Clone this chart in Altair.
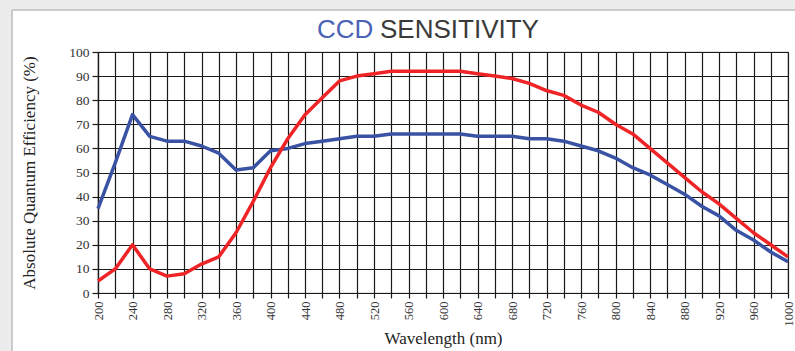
import altair as alt
import pandas as pd

wavelengths = list(range(200, 1001, 20))
blue_qe = [35, 54, 74, 65, 63, 63, 61, 58, 51, 52, 59, 60, 62, 63, 64, 65, 65, 66, 66, 66,
           66, 66, 65, 65, 65, 64, 64, 63, 61, 59, 56, 52, 49, 45, 41, 36, 32, 26, 22, 17, 13]
red_qe = [5, 10, 20, 10, 7, 8, 12, 15, 25, 38, 52, 64, 74, 81, 88, 90, 91, 92, 92, 92,
          92, 92, 91, 90, 89, 87, 84, 82, 78, 75, 70, 66, 60, 54, 48, 42, 37, 31, 25, 20, 15]
series_names = ["Blue", "Red"]
series_colors = ["#3a52a4", "#ee2426"]
x_ticks = list(range(200, 1001, 20))
y_ticks = list(range(0, 101, 10))

df = pd.DataFrame({
    "wavelength": wavelengths * 2,
    "qe": blue_qe + red_qe,
    "series": [series_names[0]] * len(wavelengths) + [series_names[1]] * len(wavelengths),
})

W, H = 690, 241
L, T = 98, 52

x = alt.X("wavelength:Q", scale=alt.Scale(domain=[200, 1000], nice=False),
          axis=alt.Axis(values=x_ticks, grid=True, gridColor="#1a1a1a", gridWidth=1.2,
                        gridOpacity=1,
                        labelExpr="datum.value % 40 == 0 ? datum.label : ''",
                        labelAngle=270, labelAlign="right", labelBaseline="middle",
                        labelFont="Liberation Serif", labelFontSize=12.5, labelColor="#333",
                        labelPadding=3, labelFlush=False, labelOverlap=False,
                        tickColor="#1a1a1a", tickSize=5, tickWidth=1.2,
                        domainColor="#1a1a1a", domainWidth=1.2,
                        title="Wavelength (nm)", titleFont="Liberation Serif",
                        titleFontSize=17, titleFontWeight="normal", titleColor="#222",
                        titlePadding=4, format="d"))
y = alt.Y("qe:Q", scale=alt.Scale(domain=[0, 100], nice=False),
          axis=alt.Axis(values=y_ticks, grid=True, gridColor="#1a1a1a", gridWidth=1.2,
                        gridOpacity=1,
                        labelFont="Liberation Sans Narrow", labelFontSize=13.5,
                        labelColor="#333", labelPadding=3,
                        tickColor="#1a1a1a", tickSize=6, tickWidth=1.2,
                        domainColor="#1a1a1a", domainWidth=1.2,
                        title="Absolute Quantum Efficiency (%)", titleFont="Liberation Serif",
                        titleFontSize=17, titleFontWeight="normal", titleColor="#222",
                        titlePadding=30))

lines = alt.Chart(df).mark_line(strokeWidth=3.5, strokeJoin="round").encode(
    x=x, y=y,
    color=alt.Color("series:N", scale=alt.Scale(domain=series_names, range=series_colors),
                    legend=None),
)

title_ccd = alt.Chart(pd.DataFrame({"t": ["CCD"]})).mark_text(
    font="Liberation Sans", fontSize=26, color="#4a63b5", align="left",
    baseline="alphabetic").encode(text="t:N", x=alt.value(317 - L), y=alt.value(38 - T))
title_rest = alt.Chart(pd.DataFrame({"t": ["SENSITIVITY"]})).mark_text(
    font="Liberation Sans", fontSize=26, color="#3a3a3a", align="left",
    baseline="alphabetic").encode(text="t:N", x=alt.value(380 - L), y=alt.value(38 - T))

one = pd.DataFrame({"a": [0]})
shade_top = alt.Chart(one).mark_rect(color="#ececec").encode(
    x=alt.value(0 - L), x2=alt.value(795 - L), y=alt.value(0 - T), y2=alt.value(10 - T))
shade_left = alt.Chart(one).mark_rect(color="#ececec").encode(
    x=alt.value(0 - L), x2=alt.value(12 - L), y=alt.value(0 - T), y2=alt.value(351 - T))
frame_top = alt.Chart(one).mark_rule(color="#bdbdbd", strokeWidth=1.5).encode(
    x=alt.value(12 - L), x2=alt.value(795 - L), y=alt.value(10 - T))
frame_left = alt.Chart(one).mark_rule(color="#bdbdbd", strokeWidth=1.5).encode(
    x=alt.value(12 - L), y=alt.value(10 - T), y2=alt.value(351 - T))

chart = alt.layer(shade_top, shade_left, frame_top, frame_left, lines, title_ccd, title_rest).properties(
    width=W, height=H,
    autosize=alt.AutoSizeParams(type="none"),
    padding={"left": L, "top": T, "right": 7, "bottom": 58},
    background="white",
).configure_view(stroke="#888888", strokeWidth=1.2)

chart.save("out.html", embed_options={"renderer": "svg", "actions": False})
